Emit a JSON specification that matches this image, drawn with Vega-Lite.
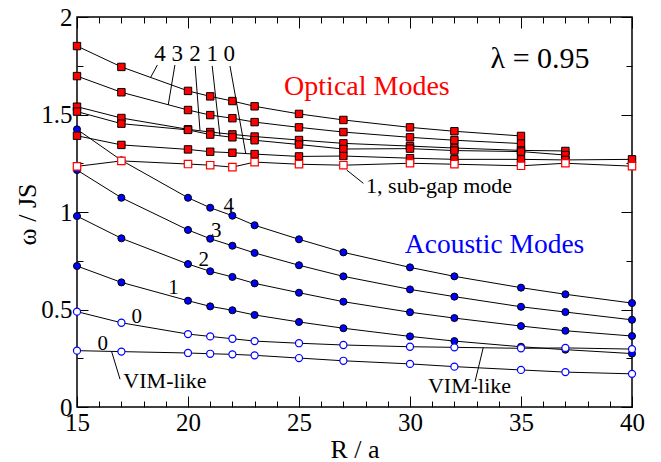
{
  "$schema": "https://vega.github.io/schema/vega-lite/v6.json",
  "width": 555,
  "height": 390,
  "autosize": "none",
  "padding": {"left": 77, "top": 17, "right": 29, "bottom": 55},
  "background": "white",
  "config": {
    "font": "Liberation Serif",
    "view": {"stroke": "black", "strokeWidth": 1.5}
  },
  "datasets": {
    "curves": [
      {"x": 15, "y": 1.851, "series": "optical 4", "mode": "optical"},
      {"x": 17, "y": 1.744, "series": "optical 4", "mode": "optical"},
      {"x": 20, "y": 1.621, "series": "optical 4", "mode": "optical"},
      {"x": 21, "y": 1.593, "series": "optical 4", "mode": "optical"},
      {"x": 22, "y": 1.569, "series": "optical 4", "mode": "optical"},
      {"x": 23, "y": 1.542, "series": "optical 4", "mode": "optical"},
      {"x": 25, "y": 1.503, "series": "optical 4", "mode": "optical"},
      {"x": 27, "y": 1.472, "series": "optical 4", "mode": "optical"},
      {"x": 30, "y": 1.434, "series": "optical 4", "mode": "optical"},
      {"x": 32, "y": 1.414, "series": "optical 4", "mode": "optical"},
      {"x": 35, "y": 1.390, "series": "optical 4", "mode": "optical"},

      {"x": 15, "y": 1.697, "series": "optical 3", "mode": "optical"},
      {"x": 17, "y": 1.614, "series": "optical 3", "mode": "optical"},
      {"x": 20, "y": 1.523, "series": "optical 3", "mode": "optical"},
      {"x": 21, "y": 1.497, "series": "optical 3", "mode": "optical"},
      {"x": 22, "y": 1.481, "series": "optical 3", "mode": "optical"},
      {"x": 23, "y": 1.461, "series": "optical 3", "mode": "optical"},
      {"x": 25, "y": 1.434, "series": "optical 3", "mode": "optical"},
      {"x": 27, "y": 1.410, "series": "optical 3", "mode": "optical"},
      {"x": 30, "y": 1.383, "series": "optical 3", "mode": "optical"},
      {"x": 32, "y": 1.368, "series": "optical 3", "mode": "optical"},
      {"x": 35, "y": 1.351, "series": "optical 3", "mode": "optical"},

      {"x": 15, "y": 1.540, "series": "optical 2", "mode": "optical"},
      {"x": 17, "y": 1.482, "series": "optical 2", "mode": "optical"},
      {"x": 20, "y": 1.424, "series": "optical 2", "mode": "optical"},
      {"x": 21, "y": 1.410, "series": "optical 2", "mode": "optical"},
      {"x": 22, "y": 1.398, "series": "optical 2", "mode": "optical"},
      {"x": 23, "y": 1.387, "series": "optical 2", "mode": "optical"},
      {"x": 25, "y": 1.369, "series": "optical 2", "mode": "optical"},
      {"x": 27, "y": 1.352, "series": "optical 2", "mode": "optical"},
      {"x": 30, "y": 1.338, "series": "optical 2", "mode": "optical"},
      {"x": 32, "y": 1.328, "series": "optical 2", "mode": "optical"},
      {"x": 35, "y": 1.316, "series": "optical 2", "mode": "optical"},
      {"x": 37, "y": 1.313, "series": "optical 2", "mode": "optical"},

      {"x": 15, "y": 1.515, "series": "optical 1", "mode": "optical"},
      {"x": 17, "y": 1.453, "series": "optical 1", "mode": "optical"},
      {"x": 20, "y": 1.421, "series": "optical 1", "mode": "optical"},
      {"x": 21, "y": 1.397, "series": "optical 1", "mode": "optical"},
      {"x": 22, "y": 1.383, "series": "optical 1", "mode": "optical"},
      {"x": 23, "y": 1.368, "series": "optical 1", "mode": "optical"},
      {"x": 25, "y": 1.346, "series": "optical 1", "mode": "optical"},
      {"x": 27, "y": 1.323, "series": "optical 1", "mode": "optical"},
      {"x": 30, "y": 1.325, "series": "optical 1", "mode": "optical"},
      {"x": 32, "y": 1.315, "series": "optical 1", "mode": "optical"},
      {"x": 35, "y": 1.310, "series": "optical 1", "mode": "optical"},
      {"x": 37, "y": 1.292, "series": "optical 1", "mode": "optical"},

      {"x": 15, "y": 1.391, "series": "optical 0", "mode": "optical"},
      {"x": 17, "y": 1.344, "series": "optical 0", "mode": "optical"},
      {"x": 20, "y": 1.321, "series": "optical 0", "mode": "optical"},
      {"x": 21, "y": 1.309, "series": "optical 0", "mode": "optical"},
      {"x": 22, "y": 1.304, "series": "optical 0", "mode": "optical"},
      {"x": 23, "y": 1.297, "series": "optical 0", "mode": "optical"},
      {"x": 25, "y": 1.285, "series": "optical 0", "mode": "optical"},
      {"x": 27, "y": 1.287, "series": "optical 0", "mode": "optical"},
      {"x": 30, "y": 1.276, "series": "optical 0", "mode": "optical"},
      {"x": 32, "y": 1.270, "series": "optical 0", "mode": "optical"},
      {"x": 35, "y": 1.270, "series": "optical 0", "mode": "optical"},
      {"x": 37, "y": 1.267, "series": "optical 0", "mode": "optical"},
      {"x": 40, "y": 1.270, "series": "optical 0", "mode": "optical"},

      {"x": 15, "y": 1.234, "series": "sub-gap", "mode": "subgap"},
      {"x": 17, "y": 1.262, "series": "sub-gap", "mode": "subgap"},
      {"x": 20, "y": 1.246, "series": "sub-gap", "mode": "subgap"},
      {"x": 21, "y": 1.240, "series": "sub-gap", "mode": "subgap"},
      {"x": 22, "y": 1.230, "series": "sub-gap", "mode": "subgap"},
      {"x": 23, "y": 1.256, "series": "sub-gap", "mode": "subgap"},
      {"x": 25, "y": 1.245, "series": "sub-gap", "mode": "subgap"},
      {"x": 27, "y": 1.240, "series": "sub-gap", "mode": "subgap"},
      {"x": 30, "y": 1.250, "series": "sub-gap", "mode": "subgap"},
      {"x": 32, "y": 1.245, "series": "sub-gap", "mode": "subgap"},
      {"x": 35, "y": 1.237, "series": "sub-gap", "mode": "subgap"},
      {"x": 37, "y": 1.250, "series": "sub-gap", "mode": "subgap"},
      {"x": 40, "y": 1.235, "series": "sub-gap", "mode": "subgap"},

      {"x": 15, "y": 1.424, "series": "acoustic 4", "mode": "acoustic"},
      {"x": 17, "y": 1.265, "series": "acoustic 4", "mode": "acoustic"},
      {"x": 20, "y": 1.073, "series": "acoustic 4", "mode": "acoustic"},
      {"x": 21, "y": 1.022, "series": "acoustic 4", "mode": "acoustic"},
      {"x": 22, "y": 0.981, "series": "acoustic 4", "mode": "acoustic"},
      {"x": 23, "y": 0.932, "series": "acoustic 4", "mode": "acoustic"},
      {"x": 25, "y": 0.860, "series": "acoustic 4", "mode": "acoustic"},
      {"x": 27, "y": 0.793, "series": "acoustic 4", "mode": "acoustic"},
      {"x": 30, "y": 0.716, "series": "acoustic 4", "mode": "acoustic"},
      {"x": 32, "y": 0.670, "series": "acoustic 4", "mode": "acoustic"},
      {"x": 35, "y": 0.612, "series": "acoustic 4", "mode": "acoustic"},
      {"x": 37, "y": 0.578, "series": "acoustic 4", "mode": "acoustic"},
      {"x": 40, "y": 0.533, "series": "acoustic 4", "mode": "acoustic"},

      {"x": 15, "y": 1.215, "series": "acoustic 3", "mode": "acoustic"},
      {"x": 17, "y": 1.073, "series": "acoustic 3", "mode": "acoustic"},
      {"x": 20, "y": 0.908, "series": "acoustic 3", "mode": "acoustic"},
      {"x": 21, "y": 0.863, "series": "acoustic 3", "mode": "acoustic"},
      {"x": 22, "y": 0.827, "series": "acoustic 3", "mode": "acoustic"},
      {"x": 23, "y": 0.790, "series": "acoustic 3", "mode": "acoustic"},
      {"x": 25, "y": 0.727, "series": "acoustic 3", "mode": "acoustic"},
      {"x": 27, "y": 0.670, "series": "acoustic 3", "mode": "acoustic"},
      {"x": 30, "y": 0.603, "series": "acoustic 3", "mode": "acoustic"},
      {"x": 32, "y": 0.566, "series": "acoustic 3", "mode": "acoustic"},
      {"x": 35, "y": 0.514, "series": "acoustic 3", "mode": "acoustic"},
      {"x": 37, "y": 0.487, "series": "acoustic 3", "mode": "acoustic"},
      {"x": 40, "y": 0.447, "series": "acoustic 3", "mode": "acoustic"},

      {"x": 15, "y": 0.979, "series": "acoustic 2", "mode": "acoustic"},
      {"x": 17, "y": 0.865, "series": "acoustic 2", "mode": "acoustic"},
      {"x": 20, "y": 0.733, "series": "acoustic 2", "mode": "acoustic"},
      {"x": 21, "y": 0.696, "series": "acoustic 2", "mode": "acoustic"},
      {"x": 22, "y": 0.667, "series": "acoustic 2", "mode": "acoustic"},
      {"x": 23, "y": 0.634, "series": "acoustic 2", "mode": "acoustic"},
      {"x": 25, "y": 0.586, "series": "acoustic 2", "mode": "acoustic"},
      {"x": 27, "y": 0.540, "series": "acoustic 2", "mode": "acoustic"},
      {"x": 30, "y": 0.486, "series": "acoustic 2", "mode": "acoustic"},
      {"x": 32, "y": 0.456, "series": "acoustic 2", "mode": "acoustic"},
      {"x": 35, "y": 0.415, "series": "acoustic 2", "mode": "acoustic"},
      {"x": 37, "y": 0.391, "series": "acoustic 2", "mode": "acoustic"},
      {"x": 40, "y": 0.364, "series": "acoustic 2", "mode": "acoustic"},

      {"x": 15, "y": 0.723, "series": "acoustic 1", "mode": "acoustic"},
      {"x": 17, "y": 0.639, "series": "acoustic 1", "mode": "acoustic"},
      {"x": 20, "y": 0.545, "series": "acoustic 1", "mode": "acoustic"},
      {"x": 21, "y": 0.516, "series": "acoustic 1", "mode": "acoustic"},
      {"x": 22, "y": 0.496, "series": "acoustic 1", "mode": "acoustic"},
      {"x": 23, "y": 0.472, "series": "acoustic 1", "mode": "acoustic"},
      {"x": 25, "y": 0.436, "series": "acoustic 1", "mode": "acoustic"},
      {"x": 27, "y": 0.404, "series": "acoustic 1", "mode": "acoustic"},
      {"x": 30, "y": 0.362, "series": "acoustic 1", "mode": "acoustic"},
      {"x": 32, "y": 0.338, "series": "acoustic 1", "mode": "acoustic"},
      {"x": 35, "y": 0.309, "series": "acoustic 1", "mode": "acoustic"},
      {"x": 37, "y": 0.294, "series": "acoustic 1", "mode": "acoustic"},
      {"x": 40, "y": 0.274, "series": "acoustic 1", "mode": "acoustic"},

      {"x": 15, "y": 0.489, "series": "acoustic 0", "mode": "acoustic open"},
      {"x": 17, "y": 0.432, "series": "acoustic 0", "mode": "acoustic open"},
      {"x": 20, "y": 0.374, "series": "acoustic 0", "mode": "acoustic open"},
      {"x": 21, "y": 0.362, "series": "acoustic 0", "mode": "acoustic open"},
      {"x": 22, "y": 0.350, "series": "acoustic 0", "mode": "acoustic open"},
      {"x": 23, "y": 0.338, "series": "acoustic 0", "mode": "acoustic open"},
      {"x": 25, "y": 0.327, "series": "acoustic 0", "mode": "acoustic open"},
      {"x": 27, "y": 0.318, "series": "acoustic 0", "mode": "acoustic open"},
      {"x": 30, "y": 0.309, "series": "acoustic 0", "mode": "acoustic open"},
      {"x": 32, "y": 0.306, "series": "acoustic 0", "mode": "acoustic open"},
      {"x": 35, "y": 0.301, "series": "acoustic 0", "mode": "acoustic open"},
      {"x": 37, "y": 0.303, "series": "acoustic 0", "mode": "acoustic open"},
      {"x": 40, "y": 0.297, "series": "acoustic 0", "mode": "acoustic open"},

      {"x": 15, "y": 0.289, "series": "VIM-like 0", "mode": "acoustic open"},
      {"x": 17, "y": 0.284, "series": "VIM-like 0", "mode": "acoustic open"},
      {"x": 20, "y": 0.277, "series": "VIM-like 0", "mode": "acoustic open"},
      {"x": 21, "y": 0.273, "series": "VIM-like 0", "mode": "acoustic open"},
      {"x": 22, "y": 0.270, "series": "VIM-like 0", "mode": "acoustic open"},
      {"x": 23, "y": 0.265, "series": "VIM-like 0", "mode": "acoustic open"},
      {"x": 25, "y": 0.251, "series": "VIM-like 0", "mode": "acoustic open"},
      {"x": 27, "y": 0.237, "series": "VIM-like 0", "mode": "acoustic open"},
      {"x": 30, "y": 0.221, "series": "VIM-like 0", "mode": "acoustic open"},
      {"x": 32, "y": 0.207, "series": "VIM-like 0", "mode": "acoustic open"},
      {"x": 35, "y": 0.190, "series": "VIM-like 0", "mode": "acoustic open"},
      {"x": 37, "y": 0.179, "series": "VIM-like 0", "mode": "acoustic open"},
      {"x": 40, "y": 0.170, "series": "VIM-like 0", "mode": "acoustic open"}
    ],
    "leaders": [
      {"x": 18.62, "y": 1.754, "x2": 18.32, "y2": 1.691},
      {"x": 19.41, "y": 1.754, "x2": 19.11, "y2": 1.549},
      {"x": 20.32, "y": 1.749, "x2": 20.54, "y2": 1.417},
      {"x": 21.09, "y": 1.749, "x2": 21.44, "y2": 1.391},
      {"x": 21.89, "y": 1.749, "x2": 22.60, "y2": 1.300},
      {"x": 27.15, "y": 1.215, "x2": 27.90, "y2": 1.147},
      {"x": 16.56, "y": 0.284, "x2": 16.94, "y2": 0.142},
      {"x": 33.30, "y": 0.305, "x2": 32.93, "y2": 0.130}
    ],
    "labels": [
      {"x": 35.86, "y": 1.737, "text": "λ = 0.95", "kind": "lambda"},
      {"x": 28.06, "y": 1.600, "text": "Optical Modes", "kind": "optical title"},
      {"x": 33.81, "y": 0.791, "text": "Acoustic Modes", "kind": "acoustic title"},
      {"x": 18.74, "y": 1.776, "text": "4", "kind": "optical number"},
      {"x": 19.52, "y": 1.776, "text": "3", "kind": "optical number"},
      {"x": 20.32, "y": 1.776, "text": "2", "kind": "optical number"},
      {"x": 21.09, "y": 1.776, "text": "1", "kind": "optical number"},
      {"x": 21.86, "y": 1.776, "text": "0", "kind": "optical number"},
      {"x": 21.83, "y": 1.002, "text": "4", "kind": "acoustic number"},
      {"x": 21.27, "y": 0.870, "text": "3", "kind": "acoustic number"},
      {"x": 20.71, "y": 0.723, "text": "2", "kind": "acoustic number"},
      {"x": 19.35, "y": 0.578, "text": "1", "kind": "acoustic number"},
      {"x": 17.69, "y": 0.432, "text": "0", "kind": "acoustic number"},
      {"x": 16.16, "y": 0.292, "text": "0", "kind": "acoustic number"},
      {"x": 31.31, "y": 1.096, "text": "1, sub-gap mode", "kind": "note"},
      {"x": 18.96, "y": 0.096, "text": "VIM-like", "kind": "note"},
      {"x": 32.68, "y": 0.070, "text": "VIM-like", "kind": "note"}
    ]
  },
  "layer": [
    {
      "encoding": {
        "x": {
          "field": "x", "type": "quantitative",
          "scale": {"domain": [15, 40], "nice": false, "zero": false},
          "axis": {
            "orient": "bottom",
            "values": [15,16,17,18,19,20,21,22,23,24,25,26,27,28,29,30,31,32,33,34,35,36,37,38,39,40],
            "labelExpr": "datum.value % 5 === 0 ? datum.label : ''",
            "tickSize": {"condition": {"test": "datum.value % 5 === 0", "value": -11}, "value": -6},
            "tickColor": "black", "tickWidth": 1,
            "domain": false, "grid": false,
            "labelFontSize": 25, "labelColor": "black", "labelPadding": 14,
            "labelFlush": false, "labelOverlap": false,
            "title": "R / a", "titleFontSize": 26, "titleFontWeight": "normal", "titleColor": "black",
            "titleX": 277.5, "titleY": 50, "titleBaseline": "alphabetic", "titleAlign": "center"
          }
        },
        "y": {
          "field": "y", "type": "quantitative",
          "scale": {"domain": [0, 2], "nice": false, "zero": false},
          "axis": {
            "orient": "left",
            "values": [0, 0.25, 0.5, 0.75, 1, 1.25, 1.5, 1.75, 2],
            "format": "~g",
            "labelExpr": "datum.value % 0.5 === 0 ? datum.label : ''",
            "tickSize": {"condition": {"test": "datum.value % 0.5 === 0", "value": -11}, "value": -6},
            "tickColor": "black", "tickWidth": 1,
            "domain": false, "grid": false,
            "labelFontSize": 25, "labelColor": "black", "labelPadding": 16,
            "labelFlush": false, "labelOverlap": false,
            "title": "ω / JS", "titleFontSize": 26, "titleFontWeight": "normal", "titleColor": "black",
            "titleX": -50, "titleY": 197, "titleAngle": -90, "titleAlign": "center", "titleBaseline": "middle"
          }
        }
      },
      "layer": [
        {
          "data": {"name": "curves"},
          "mark": {"type": "line", "color": "black", "strokeWidth": 1},
          "encoding": {"detail": {"field": "series", "type": "nominal"}}
        },
        {
          "data": {"name": "leaders"},
          "mark": {"type": "rule", "color": "black", "strokeWidth": 1},
          "encoding": {"x2": {"field": "x2"}, "y2": {"field": "y2"}}
        },
        {
          "data": {"name": "curves"},
          "transform": [{"filter": "datum.mode === 'acoustic'"}],
          "mark": {"type": "point", "shape": "circle", "size": 50, "filled": true, "fill": "#0000ff", "stroke": "black", "strokeWidth": 1, "opacity": 1}
        },
        {
          "data": {"name": "curves"},
          "transform": [{"filter": "datum.mode === 'acoustic open'"}],
          "mark": {"type": "point", "shape": "circle", "size": 50, "filled": false, "fill": "white", "fillOpacity": 1, "stroke": "#0000ff", "strokeWidth": 1.2, "opacity": 1}
        },
        {
          "data": {"name": "curves"},
          "transform": [{"filter": "datum.mode === 'optical'"}],
          "mark": {"type": "point", "shape": "square", "size": 55, "filled": true, "fill": "#ff0000", "stroke": "black", "strokeWidth": 1, "opacity": 1}
        },
        {
          "data": {"name": "curves"},
          "transform": [{"filter": "datum.mode === 'subgap'"}],
          "mark": {"type": "point", "shape": "square", "size": 55, "filled": false, "fill": "white", "fillOpacity": 1, "stroke": "#ff0000", "strokeWidth": 1.2, "opacity": 1}
        },
        {
          "data": {"name": "labels"},
          "transform": [{"filter": "datum.kind === 'lambda'"}],
          "mark": {"type": "text", "fontSize": 30, "color": "black", "align": "center", "baseline": "alphabetic"},
          "encoding": {"text": {"field": "text"}}
        },
        {
          "data": {"name": "labels"},
          "transform": [{"filter": "datum.kind === 'optical title'"}],
          "mark": {"type": "text", "fontSize": 28, "color": "#ff0000", "align": "center", "baseline": "alphabetic"},
          "encoding": {"text": {"field": "text"}}
        },
        {
          "data": {"name": "labels"},
          "transform": [{"filter": "datum.kind === 'acoustic title'"}],
          "mark": {"type": "text", "fontSize": 27.5, "color": "#0000ff", "align": "center", "baseline": "alphabetic"},
          "encoding": {"text": {"field": "text"}}
        },
        {
          "data": {"name": "labels"},
          "transform": [{"filter": "datum.kind === 'optical number'"}],
          "mark": {"type": "text", "fontSize": 23, "color": "black", "align": "center", "baseline": "alphabetic"},
          "encoding": {"text": {"field": "text"}}
        },
        {
          "data": {"name": "labels"},
          "transform": [{"filter": "datum.kind === 'acoustic number'"}],
          "mark": {"type": "text", "fontSize": 21, "color": "black", "align": "center", "baseline": "alphabetic"},
          "encoding": {"text": {"field": "text"}}
        },
        {
          "data": {"name": "labels"},
          "transform": [{"filter": "datum.kind === 'note'"}],
          "mark": {"type": "text", "fontSize": 22, "color": "black", "align": "center", "baseline": "alphabetic"},
          "encoding": {"text": {"field": "text"}}
        }
      ]
    },
    {
      "data": {"name": "curves"},
      "mark": {"type": "point", "opacity": 0},
      "encoding": {
        "x": {
          "field": "x", "type": "quantitative",
          "scale": {"domain": [15, 40], "nice": false, "zero": false},
          "axis": {
            "orient": "top",
            "values": [15,16,17,18,19,20,21,22,23,24,25,26,27,28,29,30,31,32,33,34,35,36,37,38,39,40],
            "labels": false,
            "tickSize": {"condition": {"test": "datum.value % 5 === 0", "value": -11}, "value": -6},
            "tickColor": "black", "tickWidth": 1,
            "domain": false, "grid": false, "title": null
          }
        },
        "y": {
          "field": "y", "type": "quantitative",
          "scale": {"domain": [0, 2], "nice": false, "zero": false},
          "axis": {
            "orient": "right",
            "values": [0, 0.25, 0.5, 0.75, 1, 1.25, 1.5, 1.75, 2],
            "labels": false,
            "tickSize": {"condition": {"test": "datum.value % 0.5 === 0", "value": -11}, "value": -6},
            "tickColor": "black", "tickWidth": 1,
            "domain": false, "grid": false, "title": null
          }
        }
      }
    }
  ],
  "resolve": {"axis": {"x": "independent", "y": "independent"}}
}
